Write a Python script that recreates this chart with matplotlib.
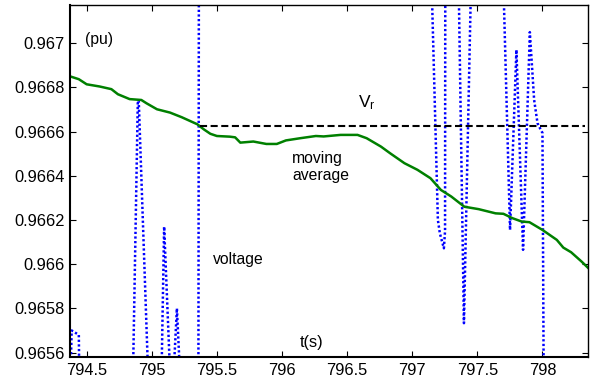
import numpy as np
import matplotlib
matplotlib.use('Agg')
import matplotlib.pyplot as plt
from matplotlib.ticker import FuncFormatter

plt.rcParams['font.family'] = ['Liberation Sans', 'DejaVu Sans']
plt.rcParams['mathtext.default'] = 'regular'

# moving average (green)
ma_t = [794.372, 794.44, 794.50, 794.60, 794.69, 794.74, 794.83, 794.92, 794.96,
        795.04, 795.14, 795.23, 795.35, 795.40, 795.45, 795.50, 795.60, 795.64,
        795.68, 795.78, 795.88, 795.96, 796.03, 796.14, 796.26, 796.32, 796.45,
        796.58, 796.65, 796.76, 796.83, 796.94, 797.04, 797.14, 797.22, 797.30,
        797.40, 797.51, 797.64, 797.70, 797.77, 797.84, 797.90, 798.00, 798.11,
        798.16, 798.22, 798.30, 798.40]
ma_v = [0.96685, 0.966837, 0.966814, 0.966804, 0.966792, 0.966769, 0.966747, 0.966743, 0.966728,
        0.966701, 0.966686, 0.966665, 0.966633, 0.966610, 0.966590, 0.966580, 0.966577, 0.966574,
        0.966550, 0.966555, 0.966544, 0.966544, 0.966560, 0.966570, 0.966580, 0.966578, 0.966585,
        0.966585, 0.966570, 0.966532, 0.966502, 0.966457, 0.966427, 0.966389, 0.966336, 0.966306,
        0.966260, 0.966249, 0.966230, 0.966228, 0.966208, 0.966193, 0.966190, 0.966155, 0.966110,
        0.966075, 0.966054, 0.966012, 0.965955]

# measured voltage (blue dotted)
v_t = [794.372, 794.385, 794.44, 794.445, 794.853, 794.893, 794.90, 794.978,
       795.072, 795.095, 795.148, 795.159, 795.193, 795.225, 795.358, 795.362,
       797.143, 797.197, 797.212, 797.243, 797.252, 797.254,
       797.353, 797.397, 797.456, 797.694, 797.751, 797.80, 797.851, 797.903,
       797.936, 797.962, 797.987, 798.0, 798.01, 798.40]
v_v = [0.9654, 0.96570, 0.96568, 0.9654, 0.9654, 0.96674, 0.96674, 0.9654,
       0.9654, 0.96617, 0.9654, 0.9654, 0.96580, 0.9654, 0.9654, 0.9674,
       0.9674, 0.96620, 0.96614, 0.966072, 0.96615, 0.9674,
       0.9674, 0.965733, 0.9674, 0.9674, 0.966155, 0.96697, 0.966065, 0.96705,
       0.966743, 0.966638, 0.966608, 0.966594, 0.9654, 0.9654]

vr_t = [795.37, 798.33]
vr_v = [0.966626, 0.966626]

x_ticks = [794.5, 795, 795.5, 796, 796.5, 797, 797.5, 798]
y_ticks = [0.9656, 0.9658, 0.9660, 0.9662, 0.9664, 0.9666, 0.9668, 0.9670]

fig = plt.figure(figsize=(5.95, 3.81), dpi=100)
ax = fig.add_axes([0.1176, 0.063, 0.8705, 0.924])

ax.plot(v_t, v_v, color='#0000ff', lw=1.8, linestyle=(0, (0.9, 0.95)), dash_capstyle='butt')
ax.plot(ma_t, ma_v, color='#008000', lw=1.8)
ax.plot(vr_t, vr_v, color='k', lw=1.5, linestyle=(0, (3.4, 1.7)))

ax.set_xlim(794.372, 798.349)
ax.set_ylim(0.96558, 0.967173)
ax.set_xticks(x_ticks)
ax.set_yticks(y_ticks)
fmt = FuncFormatter(lambda v, p: '%g' % round(v, 6))
ax.xaxis.set_major_formatter(fmt)
ax.yaxis.set_major_formatter(fmt)
ax.tick_params(direction='in', length=4, width=0.8, top=True, right=True,
               labelsize=11.8, pad=4)
for side in ['left', 'bottom']:
    ax.spines[side].set_linewidth(1.5)
for side in ['top', 'right']:
    ax.spines[side].set_linewidth(1.0)

ax.text(794.487, 0.967015, '(pu)', fontsize=11.3, va='center', ha='left')
ax.text(796.587, 0.96673, '$V_r$', fontsize=12.5, va='center', ha='left')
ax.text(796.08, 0.96644, 'moving\naverage', fontsize=11.3, va='center', ha='left',
        linespacing=1.2)
ax.text(795.47, 0.966022, 'voltage', fontsize=11.3, va='center', ha='left')
ax.text(796.136, 0.965645, 't(s)', fontsize=11.8, va='center', ha='left')

plt.savefig('out.png', dpi=100)
